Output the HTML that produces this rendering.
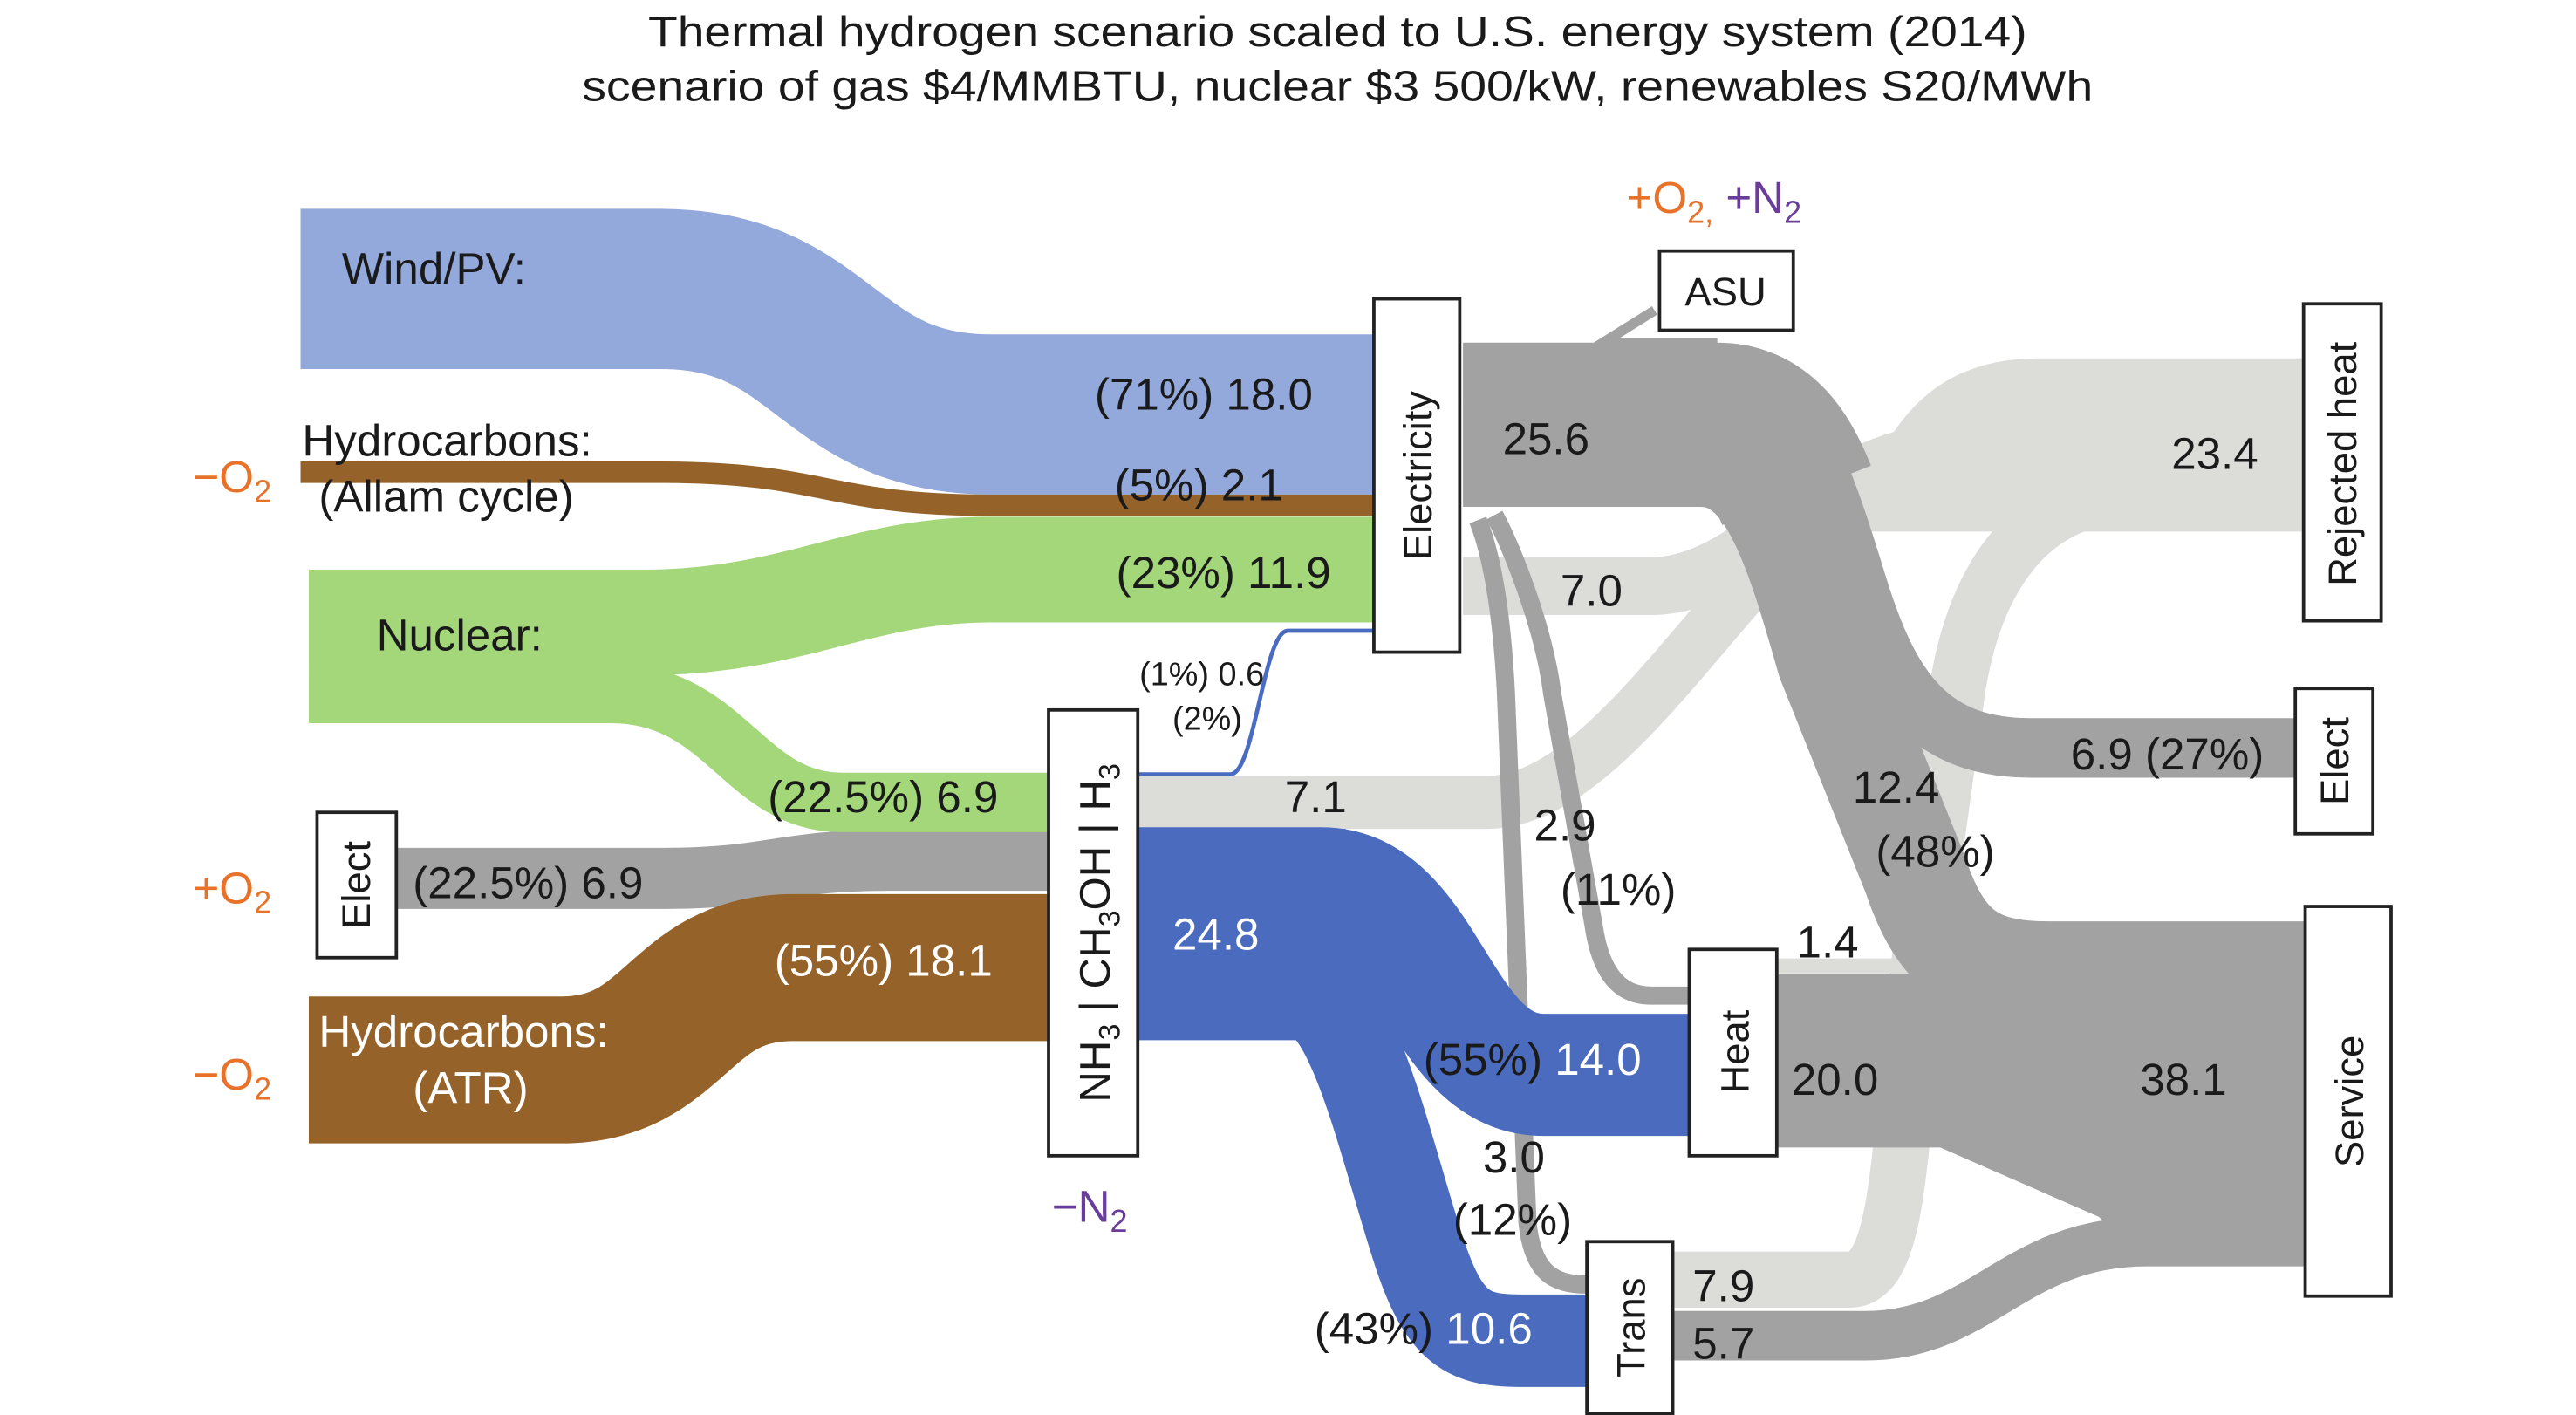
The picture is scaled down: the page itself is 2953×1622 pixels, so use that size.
<!DOCTYPE html>
<html><head><meta charset="utf-8"><style>
html,body{margin:0;padding:0;background:#fff;}
svg{display:block;}
text{font-family:"Liberation Sans",sans-serif;fill:#1a1a1a;}
.f{font-size:27px;}
.b{font-size:24px;}
.w{fill:#fff;}
.o{fill:#e8722a;}
.p{fill:#6a3d9a;}
</style></head><body>
<svg width="2953" height="1622" viewBox="0 0 1560 857" preserveAspectRatio="none" xmlns="http://www.w3.org/2000/svg">
<rect width="1560" height="857" fill="#fff"/>
<text x="810" y="28" font-size="26" text-anchor="middle" textLength="835" lengthAdjust="spacingAndGlyphs">Thermal hydrogen scenario scaled to U.S. energy system (2014)</text>
<text x="810" y="61" font-size="26" text-anchor="middle" textLength="915" lengthAdjust="spacingAndGlyphs">scenario of gas $4/MMBTU, nuclear $3 500/kW, renewables S20/MWh</text>

<!-- light gray flows -->
<g fill="none" stroke="#dcdcd9">
<path d="M689 486 L900 486 C990 486 1070 290 1160 282" stroke-width="32"/>
<path d="M886 355 L1000 355 C1060 355 1100 282 1170 275" stroke-width="35"/>
<path d="M1013 775 L1120 775 C1150 775 1150 700 1160 600 L1185 420 C1195 350 1230 300 1290 300" stroke-width="34"/>
<path d="M1076 585 L1175 585" stroke-width="9"/>
</g>
<path d="M1125 310 C1145 245 1180 217 1235 217 L1394 217 L1394 322 L1125 322 Z" fill="#dcdcd9"/>

<!-- dark gray flows -->
<g fill="none" stroke="#a2a2a2">
<path d="M886 256 L1040 256 C1065 256 1078 275 1088 300" stroke-width="97"/>
<path d="M886 226 L1040 226 C1085 226 1105 290 1125 355 C1145 420 1170 453 1230 453 L1390 453" stroke-width="36"/>
<path d="M886 275 L1030 275 C1072 275 1088 330 1108 400 L1160 530 C1175 575 1195 590 1240 590 L1396 590" stroke-width="64"/>
<path d="M905 312 C915 330 935 380 940 420 L965 560 C970 595 985 603 1000 603 L1023 603" stroke-width="11"/>
<path d="M895 315 C905 340 910 380 912 420 L925 740 C928 770 940 778 961 778" stroke-width="11"/>
<path d="M1013 809 L1130 809 C1200 809 1220 752 1300 752 L1396 752" stroke-width="30"/>
<path d="M240 532 L400 532 C470 532 470 521 540 521 L635 521" stroke-width="37"/>
</g>
<path d="M1076 590 L1180 590 L1230 564 L1396 564 L1396 765 L1300 765 L1271 737 L1175 695 L1076 695 Z" fill="#a2a2a2"/>
<path d="M1040 208 L970 208 L1002 188" fill="none" stroke="#a2a2a2" stroke-width="6"/>

<!-- left inputs -->
<g fill="none">
<path d="M182 175 L400 175 C500 175 500 251 600 251 L835 251" stroke="#93a9dc" stroke-width="97"/>
<path d="M182 286 L400 286 C500 286 500 306 600 306 L835 306" stroke="#95632a" stroke-width="13"/>
<path d="M187 377 L390 377 C480 377 520 345 600 345 L835 345" stroke="#a3d77a" stroke-width="64"/>
<path d="M187 420 L370 420 C440 420 450 486 510 486 L635 486" stroke="#a3d77a" stroke-width="36"/>
<path d="M187 648 L340 648 C410 648 410 586 480 586 L635 586" stroke="#95632a" stroke-width="89"/>
<path d="M689 469 L745 469 C760 469 765 382 780 382 L835 382" stroke="#4a6cc0" stroke-width="2.5"/>
<path d="M689 538 L800 538 C865 538 870 651 935 651 L1023 651" stroke="#4b6bbf" stroke-width="74"/>
<path d="M689 602 L790 602 C820 602 840 700 860 760 C875 805 890 812 920 812 L961 812" stroke="#4b6bbf" stroke-width="56"/>
</g>
<rect x="689" y="502" width="126" height="120" fill="#4b6bbf"/>

<!-- boxes -->
<g fill="#fff" stroke="#222" stroke-width="2">
<rect x="832" y="181" width="52" height="214"/>
<rect x="1005" y="152" width="81" height="48"/>
<rect x="1395" y="184" width="47" height="192"/>
<rect x="1390" y="417" width="47" height="88"/>
<rect x="1396" y="549" width="52" height="236"/>
<rect x="1023" y="575" width="53" height="125"/>
<rect x="961" y="752" width="52" height="104"/>
<rect x="635" y="430" width="54" height="270"/>
<rect x="192" y="492" width="48" height="88"/>
</g>

<!-- box labels -->
<text class="b" transform="translate(867,288) rotate(-90)" text-anchor="middle" font-size="26">Electricity</text>
<text class="b" x="1045" y="185" text-anchor="middle">ASU</text>
<text class="b" transform="translate(1427,281) rotate(-90)" text-anchor="middle">Rejected heat</text>
<text class="b" transform="translate(1422,461) rotate(-90)" text-anchor="middle">Elect</text>
<text class="b" transform="translate(1431,667) rotate(-90)" text-anchor="middle">Service</text>
<text class="b" transform="translate(1059,637) rotate(-90)" text-anchor="middle" font-size="27">Heat</text>
<text class="b" transform="translate(996,804) rotate(-90)" text-anchor="middle" font-size="27">Trans</text>
<text class="b" transform="translate(224,536) rotate(-90)" text-anchor="middle">Elect</text>
<text transform="translate(672,565) rotate(-90)" text-anchor="middle" font-size="26">NH<tspan font-size="18" dy="6">3</tspan><tspan dy="-6"> | CH</tspan><tspan font-size="18" dy="6">3</tspan><tspan dy="-6">OH | H</tspan><tspan font-size="18" dy="6">3</tspan></text>

<!-- flow labels -->
<text class="f" x="207" y="172">Wind/PV:</text>
<text class="f" x="183" y="276">Hydrocarbons:</text>
<text class="f" x="193" y="310">(Allam cycle)</text>
<text class="f o" x="117" y="298">−O<tspan font-size="19" dy="6">2</tspan></text>
<text class="f" x="228" y="394">Nuclear:</text>
<text class="f" x="795" y="248" text-anchor="end">(71%) 18.0</text>
<text class="f" x="777" y="303" text-anchor="end">(5%) 2.1</text>
<text class="f" x="806" y="356" text-anchor="end">(23%) 11.9</text>
<text x="690" y="415" font-size="20">(1%) 0.6</text>
<text x="710" y="442" font-size="20">(2%)</text>
<text class="f" x="465" y="492">(22.5%) 6.9</text>
<text class="f o" x="117" y="547">+O<tspan font-size="19" dy="6">2</tspan></text>
<text class="f" x="250" y="544">(22.5%) 6.9</text>
<text class="f w" x="469" y="591">(55%) 18.1</text>
<text class="f w" x="193" y="634">Hydrocarbons:</text>
<text class="f w" x="250" y="668">(ATR)</text>
<text class="f o" x="117" y="660">−O<tspan font-size="19" dy="6">2</tspan></text>
<text class="f p" x="637" y="740">−N<tspan font-size="19" dy="6">2</tspan></text>
<text class="f w" x="710" y="575">24.8</text>
<text class="f" x="778" y="492">7.1</text>
<text class="f" x="910" y="275">25.6</text>
<text class="f" x="945" y="367">7.0</text>
<text class="f" x="985" y="129"><tspan class="o">+O</tspan><tspan class="o" font-size="19" dy="6">2,</tspan><tspan class="p" dy="-6"> +N</tspan><tspan class="p" font-size="19" dy="6">2</tspan></text>
<text class="f" x="1315" y="284">23.4</text>
<text class="f" x="1254" y="466">6.9 (27%)</text>
<text class="f" x="1122" y="486">12.4</text>
<text class="f" x="1136" y="525">(48%)</text>
<text class="f" x="929" y="509">2.9</text>
<text class="f" x="945" y="548">(11%)</text>
<text class="f" x="1088" y="580">1.4</text>
<text class="f" x="1085" y="663">20.0</text>
<text class="f" x="1296" y="663">38.1</text>
<text class="f" x="862" y="651">(55%) <tspan class="w">14.0</tspan></text>
<text class="f" x="898" y="710">3.0</text>
<text class="f" x="880" y="748">(12%)</text>
<text class="f" x="796" y="814">(43%) <tspan class="w">10.6</tspan></text>
<text class="f" x="1025" y="788">7.9</text>
<text class="f" x="1025" y="823">5.7</text>
</svg>
</body></html>
